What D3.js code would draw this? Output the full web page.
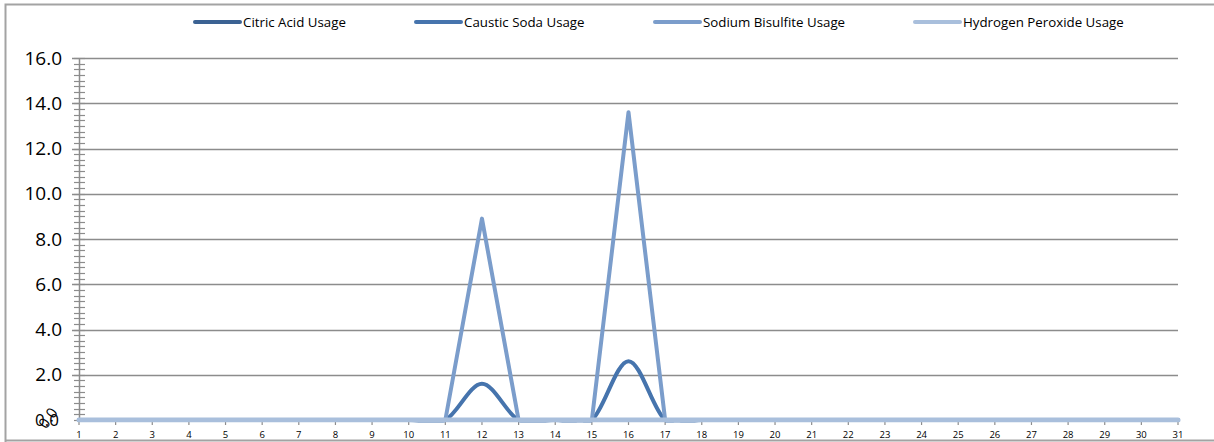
<!DOCTYPE html>
<html>
<head>
<meta charset="utf-8">
<script src="https://cdn.jsdelivr.net/npm/d3@7"></script>
<style>
  html, body { margin: 0; padding: 0; background: #fff; }
  svg { display: block; }
</style>
</head>
<body>
<svg id="chart" width="1214" height="442"></svg>
<script>
// Daily chemical usage over one month (days 1–31)
const days = d3.range(1, 32);
const citricAcid      = [0,0,0,0,0,0,0,0,0,0,0,0,0,0,0,0,0,0,0,0,0,0,0,0,0,0,0,0,0,0,0];
const causticSoda     = [0,0,0,0,0,0,0,0,0,0,0,1.6,0,0,0,2.6,0,0,0,0,0,0,0,0,0,0,0,0,0,0,0];
const sodiumBisulfite = [0,0,0,0,0,0,0,0,0,0,0,8.9,0,0,0,13.6,0,0,0,0,0,0,0,0,0,0,0,0,0,0,0];
const hydrogenPeroxide= [0,0,0,0,0,0,0,0,0,0,0,0,0,0,0,0,0,0,0,0,0,0,0,0,0,0,0,0,0,0,0];
const seriesNames = ["Citric Acid Usage", "Caustic Soda Usage", "Sodium Bisulfite Usage", "Hydrogen Peroxide Usage"];
const yTicks = [0, 2, 4, 6, 8, 10, 12, 14, 16];

const series = [
  { name: seriesNames[0], values: citricAcid,       color: "#3b6293", smooth: false },
  { name: seriesNames[1], values: causticSoda,      color: "#4674ad", smooth: true  },
  { name: seriesNames[2], values: sodiumBisulfite,  color: "#7b9dcb", smooth: false },
  { name: seriesNames[3], values: hydrogenPeroxide, color: "#a9bfdc", smooth: false }
];

const svg = d3.select("#chart");
const font = "'Open Sans', 'Liberation Sans', sans-serif";

// outer frame
svg.append("path")
  .attr("d", "M5.5,442 V4.5 H1214")
  .attr("fill", "none").attr("stroke", "#a3a3a3").attr("stroke-width", 2);
svg.append("line")
  .attr("x1", 5).attr("x2", 1214).attr("y1", 440.5).attr("y2", 440.5)
  .attr("stroke", "#a3a3a3").attr("stroke-width", 2);

const x = d3.scalePoint().domain(days).range([79, 1178]);
const y = d3.scaleLinear().domain([0, 16]).range([420, 58]);

// plot area clip: smoothed lines never dip under the zero baseline
svg.append("defs").append("clipPath").attr("id", "plot-clip")
  .append("rect")
  .attr("x", 60).attr("y", 0)
  .attr("width", 1150).attr("height", y(0) + 2.5);

// horizontal gridlines
svg.append("g").selectAll("line")
  .data(yTicks.filter(d => d > 0))
  .join("line")
  .attr("x1", 72).attr("x2", 1178)
  .attr("y1", d => Math.round(y(d)) + 0.5).attr("y2", d => Math.round(y(d)) + 0.5)
  .attr("stroke", "#8c8c8c").attr("stroke-width", 1.5);

// y axis with minor ticks
const yAxis = svg.append("g");
yAxis.append("line")
  .attr("x1", 79.5).attr("x2", 79.5).attr("y1", y(16)).attr("y2", y(0))
  .attr("stroke", "#8c8c8c").attr("stroke-width", 1.5);
yAxis.selectAll("line.minor")
  .data(d3.range(0, 16.01, 0.25))
  .join("line").attr("class", "minor")
  .attr("x1", 74).attr("x2", 85)
  .attr("y1", d => Math.round(y(d)) + 0.5).attr("y2", d => Math.round(y(d)) + 0.5)
  .attr("stroke", "#8c8c8c").attr("stroke-width", 1.2);

yAxis.selectAll("text.ylab")
  .data(yTicks.filter(d => d > 0))
  .join("text").attr("class", "ylab")
  .attr("x", 62).attr("y", d => y(d))
  .attr("dy", "0.35em")
  .attr("text-anchor", "end")
  .attr("font-family", font).attr("font-size", 19)
  .attr("fill", "#000")
  .text(d => d3.format(".1f")(d));

// the zero label overlaps a rotated copy of itself
yAxis.append("text")
  .attr("x", 59).attr("y", y(0)).attr("dy", "0.35em")
  .attr("text-anchor", "end")
  .attr("font-family", font).attr("font-size", 17)
  .attr("fill", "#000")
  .text("0.0");
yAxis.append("text")
  .attr("transform", `translate(48,${y(0) - 2}) rotate(-55)`)
  .attr("text-anchor", "middle").attr("dy", "0.35em")
  .attr("font-family", font).attr("font-size", 15)
  .attr("fill", "#000")
  .text("0.0");

// x axis
const xAxis = svg.append("g");
xAxis.append("line")
  .attr("x1", 79).attr("x2", 1178).attr("y1", y(0)).attr("y2", y(0))
  .attr("stroke", "#8c8c8c").attr("stroke-width", 1.5);
xAxis.selectAll("line.tick")
  .data(days).join("line").attr("class", "tick")
  .attr("x1", d => x(d)).attr("x2", d => x(d))
  .attr("y1", y(0)).attr("y2", y(0) + 5)
  .attr("stroke", "#8c8c8c").attr("stroke-width", 1.2);
xAxis.selectAll("text")
  .data(days).join("text")
  .attr("x", d => x(d)).attr("y", 438)
  .attr("text-anchor", "middle")
  .attr("font-family", font).attr("font-size", 9.5)
  .attr("fill", "#000")
  .text(d => d);

// series lines
const straight = d3.line().x((d, i) => x(days[i])).y(d => y(d));
const smooth = d3.line().x((d, i) => x(days[i])).y(d => y(d)).curve(d3.curveCardinal.tension(0));

svg.append("g").attr("clip-path", "url(#plot-clip)")
  .selectAll("path")
  .data(series).join("path")
  .attr("d", s => (s.smooth ? smooth : straight)(s.values))
  .attr("fill", "none")
  .attr("stroke", s => s.color)
  .attr("stroke-width", s => s.name === seriesNames[3] ? 5 : 4)
  .attr("stroke-linejoin", "round")
  .attr("stroke-linecap", "round");

// legend
const legendX = [195, 416, 655, 915];
const legend = svg.append("g").selectAll("g")
  .data(series).join("g")
  .attr("transform", (s, i) => `translate(${legendX[i]},22)`);
legend.append("line")
  .attr("x1", 0).attr("x2", 45).attr("y1", 0).attr("y2", 0)
  .attr("stroke", s => s.color).attr("stroke-width", 4).attr("stroke-linecap", "round");
legend.append("text")
  .attr("x", 48).attr("y", 0).attr("dy", "0.35em")
  .attr("font-family", font).attr("font-size", 13.3)
  .attr("fill", "#000")
  .text(s => s.name);
</script>
</body>
</html>
